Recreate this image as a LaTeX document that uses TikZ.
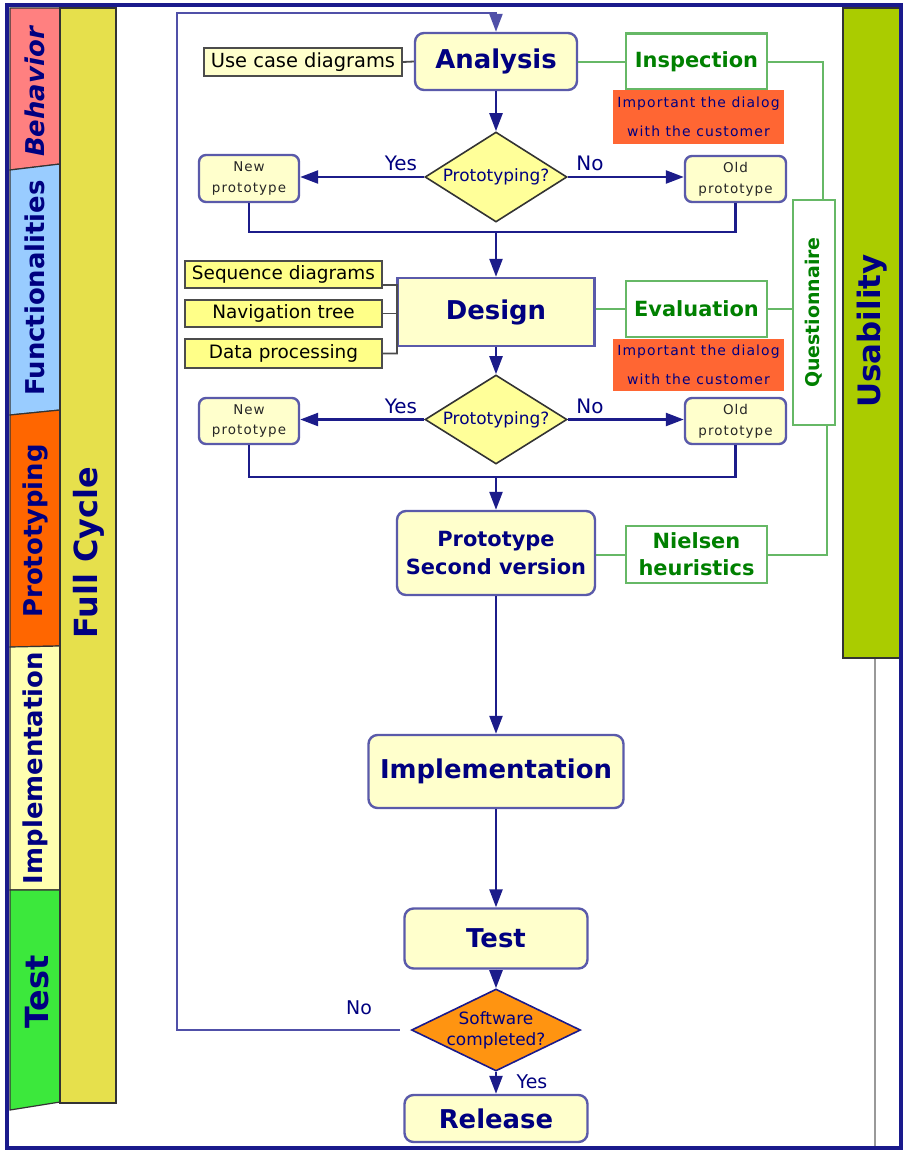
\documentclass[tikz,border=0pt]{standalone}
\usepackage{fontspec}
\setmainfont{DejaVu Sans}
\newfontfamily\spacedfont[LetterSpace=8]{DejaVu Sans}
\usetikzlibrary{arrows.meta,shapes.geometric,calc}

\definecolor{navytxt}{HTML}{000080}
\definecolor{flowc}{HTML}{1C1C8A}
\definecolor{loopc}{HTML}{5050A8}
\definecolor{boxline}{HTML}{5A5AAA}
\definecolor{boxfill}{HTML}{FFFFCC}
\definecolor{qfill}{HTML}{FFFF99}
\definecolor{sidefill}{HTML}{FFFF88}
\definecolor{greentxt}{HTML}{008000}
\definecolor{greenc}{HTML}{66B866}
\definecolor{notefill}{HTML}{FF6633}
\definecolor{usab}{HTML}{AACC00}
\definecolor{fullc}{HTML}{E6E04C}
\definecolor{behav}{HTML}{FF8080}
\definecolor{funct}{HTML}{99CCFF}
\definecolor{protoc}{HTML}{FF6600}
\definecolor{implc}{HTML}{FFFFB0}
\definecolor{testc}{HTML}{3CE83C}
\definecolor{swfill}{HTML}{FF9411}
\definecolor{framec}{HTML}{1A1A8C}

\begin{document}
\begin{tikzpicture}[x=1bp,y=-1bp,
  sz/.style 2 args={minimum width=#1bp, minimum height=#2bp},
  mainbox/.style={draw=boxline, line width=2.4bp, fill=boxfill, rounded corners=9bp,
    inner sep=0pt, align=center, text=navytxt,
    font=\fontsize{26}{30}\selectfont\bfseries},
  smallbox/.style={draw=boxline, line width=2.4bp, fill=boxfill, rounded corners=7bp,
    inner sep=0pt, align=center, text=black!85,
    font=\spacedfont\fontsize{13.5}{21}\selectfont},
  sidebox/.style={draw=black!70, line width=2.2bp, fill=sidefill, inner sep=0pt,
    text=black, font=\fontsize{18.5}{22}\selectfont},
  question/.style={diamond, draw=black!80, line width=1.6bp, fill=qfill, inner sep=0pt},
  greenbox/.style={draw=greenc, line width=2.2bp, fill=white, inner sep=0pt, align=center,
    text=greentxt, font=\fontsize{21}{25}\selectfont\bfseries},
  notebox/.style={fill=notefill, inner sep=0pt, align=center, text=navytxt,
    font=\spacedfont\fontsize{14}{29}\selectfont},
  lbl/.style={inner sep=0pt, text=navytxt, font=\fontsize{20}{24}\selectfont},
  bartext/.style={rotate=90, inner sep=0pt, text=navytxt,
    font=\fontsize{26}{30}\selectfont\bfseries},
  barline/.style={draw=black!80, line width=1.2bp},
  flowline/.style={draw=flowc, line width=2.4bp},
  flowarrow/.style={flowline, -{Triangle[length=18bp,width=13bp]}},
  looparrow/.style={draw=loopc, line width=2.2bp, -{Triangle[length=18bp,width=13bp]}},
  gline/.style={draw=greenc, line width=2bp},
  sline/.style={draw=black!70, line width=1.8bp}]

\useasboundingbox (0,0) rectangle (904,1151);
\fill[white] (0,0) rectangle (904,1151);

% phase column on the left
\draw[barline, fill=behav] (10,8) -- (60,8) -- (60,164) -- (10,170) -- cycle;
\draw[barline, fill=funct] (10,170) -- (60,164) -- (60,410) -- (10,415) -- cycle;
\draw[barline, fill=protoc] (10,415) -- (60,410) -- (60,646) -- (10,647) -- cycle;
\draw[barline, fill=implc] (10,647) -- (60,646) -- (60,890) -- (10,890) -- cycle;
\draw[barline, fill=testc] (10,890) -- (60,890) -- (60,1102) -- (10,1110) -- cycle;
\draw[barline, fill=fullc] (60,8) rectangle (116,1103);

\node[bartext, font=\fontsize{26}{30}\selectfont\bfseries\itshape] (tBehav) at (35,92) {Behavior};
\node[bartext] (tFunct) at (35,288) {Functionalities};
\node[bartext] (tProto) at (35,531) {Prototyping};
\node[bartext] (tImpl) at (35,768) {Implementation};
\node[bartext, font=\fontsize{32}{36}\selectfont\bfseries] (tTest) at (37,992) {Test};
\node[bartext, font=\fontsize{32}{36}\selectfont\bfseries] (tFull) at (89,553) {Full Cycle};

% usability column on the right
\draw[draw=black!40, line width=1.5bp] (875,658) -- (875,1148);
\draw[draw=black!80, line width=1.5bp, fill=usab] (843,8) rectangle (900,658);
\node[bartext, font=\fontsize{31}{36}\selectfont\bfseries] (tUsab) at (872,331) {Usability};

% outer frame
\draw[draw=framec, line width=3.2bp] (7,5) rectangle (901,1148);

% main flow
\node[mainbox, sz={162}{57}] (analysis) at (496,61.5) {Analysis};
\node[question, sz={142}{90}, label={[lbl, font=\fontsize{17}{20}\selectfont]center:Prototyping?}] (dec1) at (496,177) {};
\node[smallbox, sz={100}{47}] (np1) at (249,178.5) {New\\prototype};
\node[smallbox, sz={101}{46}] (op1) at (735.5,179) {Old\\prototype};

\node[mainbox, sharp corners, sz={197}{68}] (design) at (496,312) {Design};
\node[question, sz={142}{89}, label={[lbl, font=\fontsize{17}{20}\selectfont]center:Prototyping?}] (dec2) at (496,419.5) {};
\node[smallbox, sz={100}{46}] (np2) at (249,421) {New\\prototype};
\node[smallbox, sz={101}{46}] (op2) at (735.5,421) {Old\\prototype};

\node[mainbox, sz={198}{84}, font=\fontsize{21}{29}\selectfont\bfseries] (proto) at (496,553) {Prototype\\Second version};
\node[mainbox, sz={255}{73}] (impl) at (496,771.5) {Implementation};
\node[mainbox, sz={183}{60}] (test) at (496,938.5) {Test};
\node[question, draw=framec, fill=swfill, sz={169}{82},
  label={[lbl, align=center, font=\fontsize{17}{21}\selectfont]center:Software\\completed?}] (dec3) at (496,1030) {};
\node[mainbox, sz={183}{47}] (release) at (496,1118.5) {Release};

% side artefacts
\node[sidebox, fill=boxfill, sz={198}{28}, font=\fontsize{19.5}{22}\selectfont] (usecase) at (303,62) {Use case diagrams};
\node[sidebox, sz={197}{27}] (seq) at (283.5,274.5) {Sequence diagrams};
\node[sidebox, sz={197}{27}] (nav) at (283.5,313.5) {Navigation tree};
\node[sidebox, sz={197}{29}] (data) at (283.5,353.5) {Data processing};

% usability methods
\node[greenbox, sz={141}{56}] (inspection) at (696.5,61.5) {Inspection};
\node[notebox, sz={171}{54}] (note1) at (698.5,117) {Important the dialog\\with the customer};
\node[greenbox, sz={141}{56}] (evaluation) at (696.5,309) {Evaluation};
\node[notebox, sz={171}{52}] (note2) at (698.5,365) {Important the dialog\\with the customer};
\node[greenbox, sz={42}{225},
  label={[rotate=90, inner sep=0pt, text=greentxt, font=\fontsize{19}{22}\selectfont\bfseries]center:Questionnaire}] (quest) at (814,312.5) {};
\node[greenbox, sz={141}{57}, font=\fontsize{21}{27}\selectfont\bfseries] (nielsen) at (696.5,554.5) {Nielsen\\heuristics};

% connectors of the main flow
\draw[flowarrow] (analysis.south) -- (dec1.north);
\draw[flowarrow] (dec1.west) -- (dec1.west -| np1.east);
\draw[flowarrow] (dec1.east) -- (dec1.east -| op1.west);
\node[lbl] (yes1) at (401,163) {Yes};
\node[lbl] (no1) at (590,163) {No};
\coordinate (j1) at (496,232);
\draw[flowline] (np1.south) |- (j1) -| (op1.south);
\draw[flowarrow] (j1) -- (design.north);

\draw[flowarrow] (design.south) -- (dec2.north);
\draw[flowarrow] (dec2.west) -- (dec2.west -| np2.east);
\draw[flowarrow] (dec2.east) -- (dec2.east -| op2.west);
\node[lbl] (yes2) at (401,406) {Yes};
\node[lbl] (no2) at (590,406) {No};
\coordinate (j2) at (496,477);
\draw[flowline] (np2.south) |- (j2) -| (op2.south);
\draw[flowarrow] (j2) -- (proto.north);

\draw[flowarrow] (proto.south) -- (impl.north);
\draw[flowarrow] (impl.south) -- (test.north);
\draw[flowarrow] (test.south) -- (dec3.north);
\draw[flowarrow] (dec3.south) -- (release.north);
\node[lbl, font=\fontsize{19}{22}\selectfont] (yes3) at (532,1082) {Yes};
\node[lbl, font=\fontsize{19}{22}\selectfont] (no3) at (359,1008) {No};

% loop back to the analysis
\coordinate (lb) at (177,1030);
\coordinate (lt) at (177,13);
\draw[looparrow, shorten <=11bp] (dec3.west) -- (lb) -- (lt) -| (analysis.north);

% artefact connectors
\draw[sline] (usecase.east) -- (analysis.west);
\coordinate (bt) at (397,285);
\coordinate (bb) at (397,353.5);
\draw[sline] ([yshift=-10.5bp]seq.east) -- (bt) -- (bb) -- (data.east);
\draw[sline] (nav.east) -- (nav.east -| bt);

% usability connectors
\draw[gline] (analysis.east) -- (inspection.west);
\draw[gline] (inspection.east) -| ([xshift=9bp]quest.north);
\draw[gline] (evaluation.west -| design.east) -- (evaluation.west);
\draw[gline] (evaluation.east) -- (evaluation.east -| quest.west);
\draw[gline] (nielsen.west -| proto.east) -- (nielsen.west);
\draw[gline] (nielsen.east) -| ([xshift=13bp]quest.south);

\end{tikzpicture}
\end{document}
